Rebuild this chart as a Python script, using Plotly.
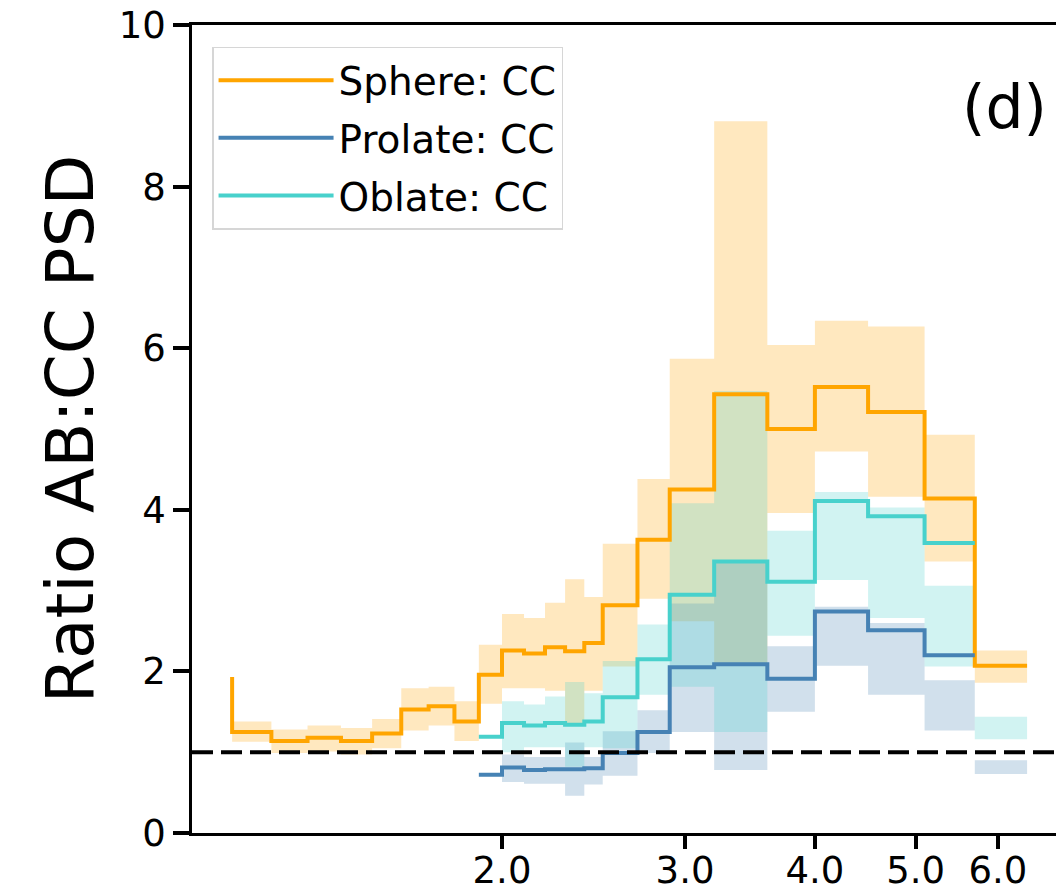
import plotly.graph_objects as go

# ---------------- data ----------------
# Sphere: step edges (steps-pre: value i belongs to bin (x[i-1], x[i]]; value 0 is the start point)
sphere_x = [1.1, 1.2, 1.3, 1.4, 1.5, 1.6, 1.7, 1.8, 1.9, 2.0, 2.1, 2.2, 2.3, 2.4, 2.5,
            2.7, 2.9, 3.2, 3.6, 4.0, 4.5, 5.1, 5.7, 6.4]
sphere_ratio = [1.93, 1.25, 1.14, 1.18, 1.14, 1.23, 1.53, 1.57, 1.38, 1.96, 2.26, 2.22,
                2.30, 2.25, 2.35, 2.82, 3.63, 4.25, 5.43, 5.00, 5.52, 5.21, 4.14, 2.07]
sphere_hi = [2.10, 1.38, 1.28, 1.33, 1.30, 1.41, 1.79, 1.81, 1.63, 2.33, 2.71, 2.66,
             2.85, 3.14, 2.92, 3.58, 4.38, 5.87, 8.81, 6.04, 6.34, 6.27, 4.93, 2.26]
sphere_lo = [1.80, 1.13, 0.99, 1.01, 0.97, 1.05, 1.27, 1.33, 1.14, 1.60, 1.79, 1.79,
             1.76, 1.36, 1.76, 2.06, 2.90, 2.62, 2.10, 3.96, 4.72, 4.16, 3.36, 1.86]

# Prolate / Oblate lines
shape_line_x = [1.9, 2.0, 2.1, 2.2, 2.3, 2.4, 2.5, 2.7, 2.9, 3.2, 3.6, 4.0, 4.5, 5.1, 5.7]
prolate_ratio = [0.72, 0.72, 0.81, 0.78, 0.79, 0.79, 0.80, 0.99, 1.25, 2.05, 2.09, 1.91,
                 2.74, 2.51, 2.20]
oblate_ratio = [1.19, 1.19, 1.36, 1.33, 1.36, 1.34, 1.38, 1.68, 2.15, 2.95, 3.36, 3.11,
                4.11, 3.92, 3.59]

# Prolate / Oblate uncertainty bands
shape_band_x = [2.0, 2.1, 2.2, 2.3, 2.4, 2.5, 2.7, 2.9, 3.2, 3.6, 4.0, 4.5, 5.1, 5.7, 6.4]
prolate_hi = [0.97, 0.97, 0.94, 0.94, 1.12, 0.94, 1.26, 1.52, 2.84, 3.38, 2.31, 2.80,
              2.60, 1.89, 0.90]
prolate_lo = [0.63, 0.63, 0.61, 0.61, 0.46, 0.60, 0.71, 0.99, 1.25, 0.78, 1.50, 2.07,
              1.71, 1.27, 0.73]
oblate_hi = [1.63, 1.63, 1.59, 1.69, 1.87, 1.73, 2.13, 2.58, 4.08, 5.47, 3.74, 4.22,
             4.03, 3.06, 1.44]
oblate_lo = [1.00, 1.00, 1.06, 1.06, 0.82, 1.06, 1.05, 1.71, 1.81, 1.25, 2.44, 3.13,
             2.66, 2.06, 1.16]

x_tick_vals = [2.0, 3.0, 4.0, 5.0, 6.0]
x_tick_text = ["2.0", "3.0", "4.0", "5.0", "6.0"]
y_tick_vals = [0, 2, 4, 6, 8, 10]
reference_ratio = 1.0

FONT = "DejaVu Sans"
ORANGE = "#FFA500"
BLUE = "#4682B4"
CYAN = "#48D1CC"


def rgba(hex_color, a):
    h = hex_color.lstrip("#")
    r, g, b = int(h[0:2], 16), int(h[2:4], 16), int(h[4:6], 16)
    return f"rgba({r},{g},{b},{a})"


fig = go.Figure()


def add_band(x, lo, hi, color):
    fig.add_trace(go.Scatter(x=x, y=lo, mode="lines", line=dict(width=0, shape="vh"),
                             showlegend=False, hoverinfo="skip"))
    fig.add_trace(go.Scatter(x=x, y=hi, mode="lines", line=dict(width=0, shape="vh"),
                             fill="tonexty", fillcolor=rgba(color, 0.25),
                             showlegend=False, hoverinfo="skip"))


add_band(sphere_x, sphere_lo, sphere_hi, ORANGE)
add_band(shape_band_x, prolate_lo, prolate_hi, BLUE)
add_band(shape_band_x, oblate_lo, oblate_hi, CYAN)

LW = 4
fig.add_trace(go.Scatter(x=sphere_x, y=sphere_ratio, mode="lines", name="Sphere: CC",
                         legendgroup="a", line=dict(color=ORANGE, width=LW, shape="vh")))
fig.add_trace(go.Scatter(x=shape_line_x, y=prolate_ratio, mode="lines", name="Prolate: CC",
                         legendgroup="b", line=dict(color=BLUE, width=LW, shape="vh")))
fig.add_trace(go.Scatter(x=shape_line_x, y=oblate_ratio, mode="lines", name="Oblate: CC",
                         legendgroup="c", line=dict(color=CYAN, width=LW, shape="vh")))

fig.add_hline(y=reference_ratio, line=dict(color="black", width=4, dash="21px,8px"),
              layer="above")

fig.add_annotation(text="(d)", x=0.932, y=0.898, xref="paper", yref="paper",
                   xanchor="center", yanchor="middle", showarrow=False,
                   font=dict(family=FONT, size=60, color="black"))

# the page body adds an 8px offset, so the figure is 8px smaller than the window
fig.update_layout(
    width=1056, height=888,
    margin=dict(l=184, r=0, t=17, b=63),
    paper_bgcolor="white", plot_bgcolor="white",
    font=dict(family=FONT, color="black"),
    showlegend=True,
    legend=dict(x=0.023, y=0.973, xanchor="left", yanchor="top",
                bgcolor="white", bordercolor="#D6D6D6", borderwidth=1.5,
                font=dict(family=FONT, size=39, color="black"),
                itemwidth=115, tracegroupgap=4),
    xaxis=dict(type="log", range=[0.0028, 0.8417], automargin=False,
               tickvals=x_tick_vals, ticktext=x_tick_text,
               showgrid=False, zeroline=False,
               showline=True, linecolor="black", linewidth=2.5, mirror=True,
               ticks="outside", ticklen=13, tickwidth=3.5, tickcolor="black",
               ticklabelstandoff=-10, ticklabeloverflow="allow",
               tickfont=dict(family=FONT, size=37, color="black")),
    yaxis=dict(range=[0, 10], tickvals=y_tick_vals, automargin=False,
               showgrid=False, zeroline=False,
               showline=True, linecolor="black", linewidth=2.5,
               ticks="outside", ticklen=16, tickwidth=3.5, tickcolor="black",
               ticklabeloverflow="allow",
               tickfont=dict(family=FONT, size=37, color="black"),
               title=dict(text="Ratio AB:CC PSD", standoff=4,
                          font=dict(family=FONT, size=66, color="black"))),
)

fig.write_html("out.html")
